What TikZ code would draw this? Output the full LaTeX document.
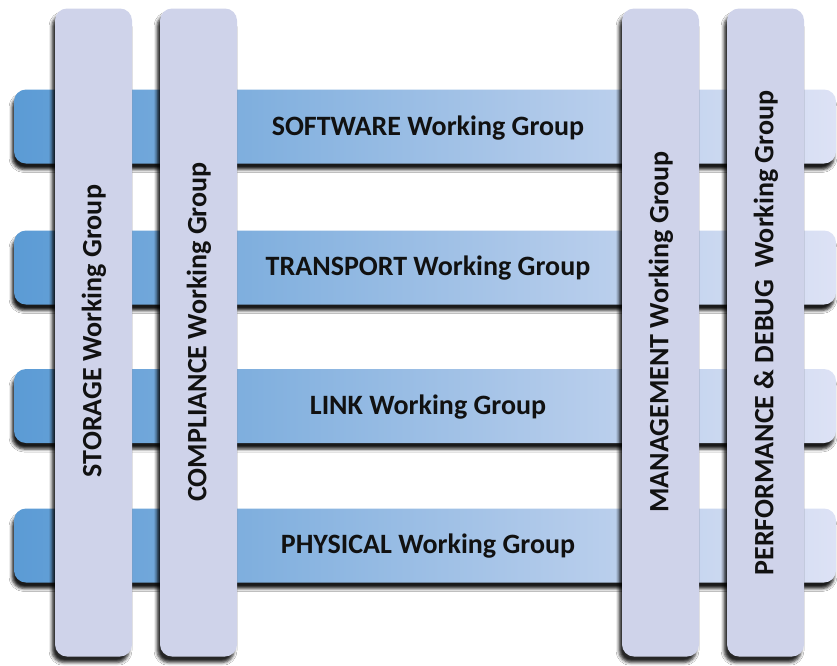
\documentclass[tikz,border=0pt]{standalone}
\usepackage{fontspec}
\setmainfont{Carlito}
\usetikzlibrary{shadows.blur}
\definecolor{barL}{HTML}{5B9BD5}
\definecolor{barR}{HTML}{DDE2F5}
\definecolor{colfill}{HTML}{CFD3EA}
\definecolor{txt}{HTML}{111111}
\tikzset{
  barbox/.style={rounded corners=12pt, left color=barL, right color=barR, minimum width=822pt, minimum height=74pt, inner sep=0pt,
    blur shadow={shadow xshift=-2pt, shadow yshift=-6pt, shadow opacity=90, shadow blur radius=3pt}},
  colbox/.style={rounded corners=12pt, fill=colfill, minimum width=77pt, minimum height=648pt, inner sep=0pt,
    blur shadow={shadow xshift=-3pt, shadow yshift=-6pt, shadow opacity=85, shadow blur radius=3pt}},
  lbl/.style={font=\bfseries\fontsize{28pt}{30pt}\selectfont, text=txt, inner sep=0pt},
  vlbl/.style={lbl, rotate=90}
}
\begin{document}
\begin{tikzpicture}[x=1pt, y=-1pt]
\fill[white] (0,0) rectangle (837,665);
\useasboundingbox (0,0) rectangle (837,665);
% horizontal bars
\node[barbox] (b1) at (425,126.5) {};
\node[barbox] (b2) at (425,267.5) {};
\node[barbox] (b3) at (425,406) {};
\node[barbox] (b4) at (425,545.5) {};
\node[lbl] (t1) at (428,128) {SOFTWARE Working Group};
\node[lbl] (t2) at (428,268) {TRANSPORT Working Group};
\node[lbl] (t3) at (428,407) {LINK Working Group};
\node[lbl] (t4) at (428,546) {PHYSICAL Working Group};
% vertical columns
\node[colbox] (c1) at (93.5,332.5) {};
\node[colbox] (c2) at (198.5,332.5) {};
\node[colbox] (c3) at (660.5,332.5) {};
\node[colbox] (c4) at (765.5,332.5) {};
\node[vlbl] (v1) at (94,331) {STORAGE Working Group};
\node[vlbl] (v2) at (199,332) {COMPLIANCE Working Group};
\node[vlbl] (v3) at (661,332) {MANAGEMENT Working Group};
\node[vlbl] (v4) at (766,333) {PERFORMANCE \& DEBUG\ \ Working Group};
\end{tikzpicture}
\end{document}
